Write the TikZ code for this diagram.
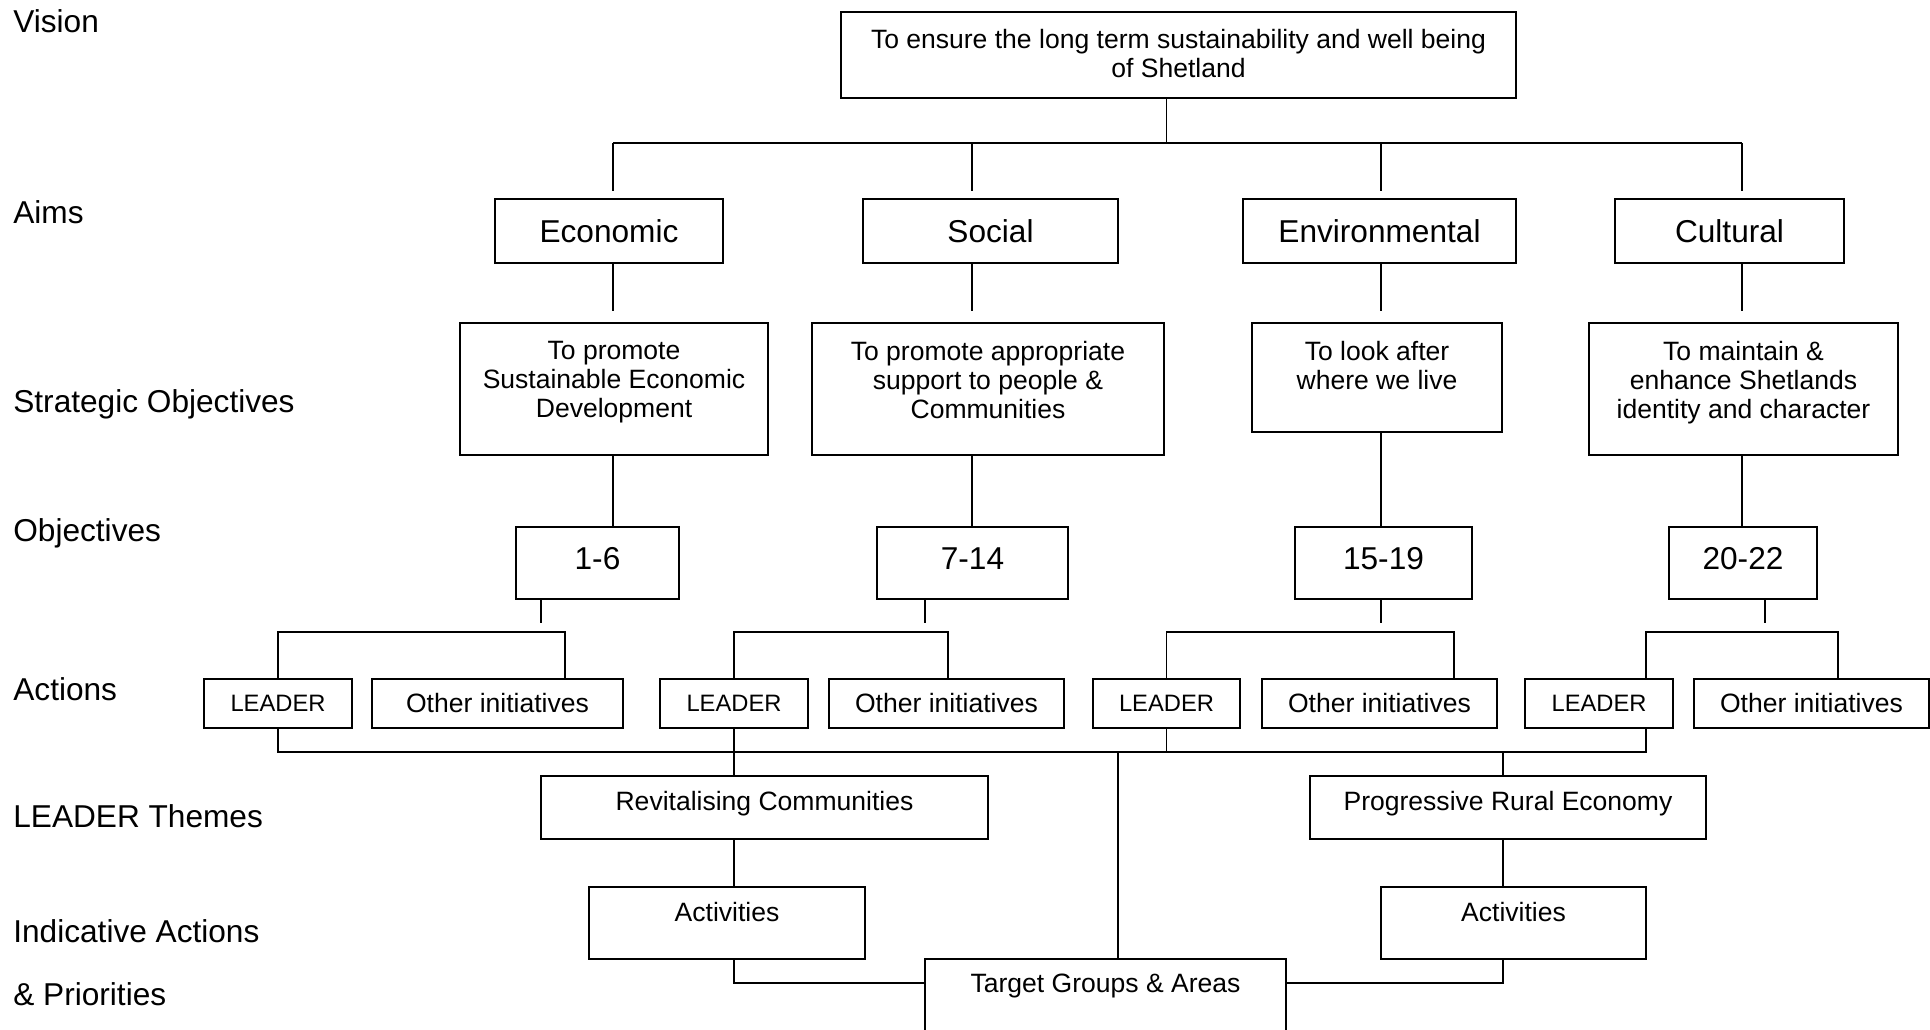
\documentclass[tikz,border=0pt]{standalone}
\usepackage{fontspec}
\setmainfont{Liberation Sans}
\tikzset{
    box/.style={draw, line width=1.1pt, inner sep=0pt},
    aim/.style={box, minimum height=1.28cm, font=\fontsize{18}{20}\selectfont},
    num/.style={box, minimum height=1.44cm},
    act/.style={box, minimum height=0.98cm, font=\fontsize{15.1}{16.6}\selectfont},
    lead/.style={box, minimum height=0.98cm, font=\fontsize{13.5}{15}\selectfont},
    intxt/.style={anchor=north, inner sep=0pt, align=center, font=\fontsize{15.1}{16.6}\selectfont},
    numtxt/.style={anchor=north, inner sep=0pt, font=\fontsize{18}{20}\selectfont},
    side/.style={anchor=base west, inner sep=0pt, font=\fontsize{18}{20}\selectfont},
    link/.style={line width=1.1pt},
}
\begin{document}
    \begin{tikzpicture}[x=0.02cm, y=-0.02cm]
            \useasboundingbox (0,0) rectangle (1930,1030) ;
            \clip (0,0) rectangle (1930,1030) ;
            % left column
            \node[side] (lvis) at (13,33) {Vision} ;
            \node[side] (laim) at (13,224) {Aims} ;
            \node[side] (lstr) at (13,413) {Strategic Objectives} ;
            \node[side] (lobj) at (13,541) {Objectives} ;
            \node[side] (lact) at (13,700) {Actions} ;
            \node[side] (lthm) at (13,827) {LEADER Themes} ;
            \node[side] (lind) at (13,942) {Indicative Actions} ;
            \node[side] (lpri) at (13,1005) {\& Priorities} ;
            % vision and aims
            \node[box, minimum width=13.5cm, minimum height=1.72cm,
                label={[intxt, yshift=-0.36cm]north:To ensure the long term sustainability and well being\\of Shetland}] (vis) at (1178.5,55) {} ;
            \node[aim, minimum width=4.56cm] (eco) at (609,231) {Economic} ;
            \node[aim, minimum width=5.1cm] (soc) at (990.5,231) {Social} ;
            \node[aim, minimum width=5.46cm] (env) at (1379.5,231) {Environmental} ;
            \node[aim, minimum width=4.58cm] (cul) at (1729.5,231) {Cultural} ;
            % strategic objectives
            \node[box, minimum width=6.16cm, minimum height=2.64cm,
                label={[intxt, yshift=-0.38cm]north:To promote\\Sustainable Economic\\Development}] (so1) at (614,389) {} ;
            \node[box, minimum width=7.04cm, minimum height=2.64cm,
                label={[intxt, yshift=-0.38cm]north:To promote appropriate\\support to people \&\\Communities}] (so2) at (988,389) {} ;
            \node[box, minimum width=5cm, minimum height=2.18cm,
                label={[intxt, yshift=-0.38cm]north:To look after\\where we live}] (so3) at (1377,377.5) {} ;
            \node[box, minimum width=6.18cm, minimum height=2.64cm,
                label={[intxt, yshift=-0.38cm]north:To maintain \&\\enhance Shetlands\\identity and character}] (so4) at (1743.5,389) {} ;
            % objectives
            \node[num, minimum width=3.26cm, label={[numtxt, yshift=-0.42cm]north:1-6}] (ob1) at (597.5,563) {} ;
            \node[num, minimum width=3.82cm, label={[numtxt, yshift=-0.42cm]north:7-14}] (ob2) at (972.5,563) {} ;
            \node[num, minimum width=3.54cm, label={[numtxt, yshift=-0.42cm]north:15-19}] (ob3) at (1383.5,563) {} ;
            \node[num, minimum width=2.96cm, label={[numtxt, yshift=-0.42cm]north:20-22}] (ob4) at (1743,563) {} ;
            % actions
            \node[lead, minimum width=2.96cm] (ld1) at (278,703.5) {LEADER} ;
            \node[act, minimum width=5.02cm] (ot1) at (497.5,703.5) {Other initiatives} ;
            \node[lead, minimum width=2.96cm] (ld2) at (734,703.5) {LEADER} ;
            \node[act, minimum width=4.7cm] (ot2) at (946.5,703.5) {Other initiatives} ;
            \node[lead, minimum width=2.94cm] (ld3) at (1166.5,703.5) {LEADER} ;
            \node[act, minimum width=4.7cm] (ot3) at (1379.5,703.5) {Other initiatives} ;
            \node[lead, minimum width=2.96cm] (ld4) at (1599,703.5) {LEADER} ;
            \node[act, minimum width=4.7cm] (ot4) at (1811.5,703.5) {Other initiatives} ;
            % themes, activities, targets
            \node[box, minimum width=8.94cm, minimum height=1.26cm,
                label={[intxt, yshift=-0.32cm]north:Revitalising Communities}] (rev) at (764.5,807.5) {} ;
            \node[box, minimum width=7.92cm, minimum height=1.26cm,
                label={[intxt, yshift=-0.32cm]north:Progressive Rural Economy}] (pro) at (1508,807.5) {} ;
            \node[box, minimum width=5.52cm, minimum height=1.44cm,
                label={[intxt, yshift=-0.32cm]north:Activities}] (ac1) at (727,923) {} ;
            \node[box, minimum width=5.3cm, minimum height=1.44cm,
                label={[intxt, yshift=-0.32cm]north:Activities}] (ac2) at (1513.5,923) {} ;
            \node[box, minimum width=7.22cm, minimum height=2.02cm,
                label={[intxt, yshift=-0.32cm]north:Target Groups \& Areas}] (tgt) at (1105.5,1009.5) {} ;
            % top tree
            \coordinate (a1) at (613,143) ;
            \coordinate (a2) at (972,143) ;
            \coordinate (a3) at (1381,143) ;
            \coordinate (a4) at (1742,143) ;
            \draw[link] ([xshift=-0.24cm]vis.south) -- ([xshift=-0.24cm]vis.south |- a1) ;
            \draw[link] (a1) -- (a4) ;
            \draw[link, shorten >=0.14cm] (a1) -- (a1 |- eco.north) ;
            \draw[link, shorten >=0.14cm] (a2) -- (a2 |- soc.north) ;
            \draw[link, shorten >=0.14cm] (a3) -- (a3 |- env.north) ;
            \draw[link, shorten >=0.14cm] (a4) -- (a4 |- cul.north) ;
            \draw[link, shorten >=0.22cm] (a1 |- eco.south) -- (a1 |- so1.north) ;
            \draw[link, shorten >=0.22cm] (a2 |- soc.south) -- (a2 |- so2.north) ;
            \draw[link, shorten >=0.22cm] (a3 |- env.south) -- (a3 |- so3.north) ;
            \draw[link, shorten >=0.22cm] (a4 |- cul.south) -- (a4 |- so4.north) ;
            \draw[link] (a1 |- so1.south) -- (a1 |- ob1.north) ;
            \draw[link] (a2 |- so2.south) -- (a2 |- ob2.north) ;
            \draw[link] (a3 |- so3.south) -- (a3 |- ob3.north) ;
            \draw[link] (a4 |- so4.south) -- (a4 |- ob4.north) ;
            % split into actions
            \coordinate (m1) at (541,632) ;
            \coordinate (m2) at (925,632) ;
            \coordinate (m3) at (1381,632) ;
            \coordinate (m4) at (1765,632) ;
            \draw[link, shorten >=0.18cm] (ob1.south -| m1) -- (m1) ;
            \draw[link, shorten >=0.18cm] (ob2.south -| m2) -- (m2) ;
            \draw[link, shorten >=0.18cm] (ob3.south -| m3) -- (m3) ;
            \draw[link, shorten >=0.18cm] (ob4.south -| m4) -- (m4) ;
            \coordinate (t1) at (565,632) ;
            \coordinate (t2) at (948,632) ;
            \coordinate (t3) at (1454,632) ;
            \coordinate (t4) at (1838,632) ;
            \coordinate (k4) at (1646,632) ;
            \draw[link] (ld1.north) |- (t1) -- (t1 |- ot1.north) ;
            \draw[link] (ld2.north) |- (t2) -- (t2 |- ot2.north) ;
            \draw[link] (ld3.north) |- (t3) -- (t3 |- ot3.north) ;
            \draw[link] (k4 |- ld4.north) -- (k4) -- (t4) -- (t4 |- ot4.north) ;
            % LEADER bus
            \coordinate (b4) at (1646,752) ;
            \coordinate (g) at (1118,752) ;
            \coordinate (p) at (1503,752) ;
            \coordinate (h) at (0,983) ;
            \draw[link] (ld1.south) |- (b4) -- (b4 |- ld4.south) ;
            \draw[link] (ld2.south) -- (ld2.south |- rev.north) ;
            \draw[link] (ld3.south) -- (ld3.south |- b4) ;
            \draw[link] (g) -- (g |- tgt.north) ;
            \draw[link] (p) -- (p |- pro.north) ;
            \draw[link] (ld2.south |- rev.south) -- (ld2.south |- ac1.north) ;
            \draw[link] (p |- pro.south) -- (p |- ac2.north) ;
            \draw[link] (ld2.south |- ac1.south) |- (h -| tgt.west) ;
            \draw[link] (p |- ac2.south) |- (h -| tgt.east) ;
    \end{tikzpicture}
\end{document}
